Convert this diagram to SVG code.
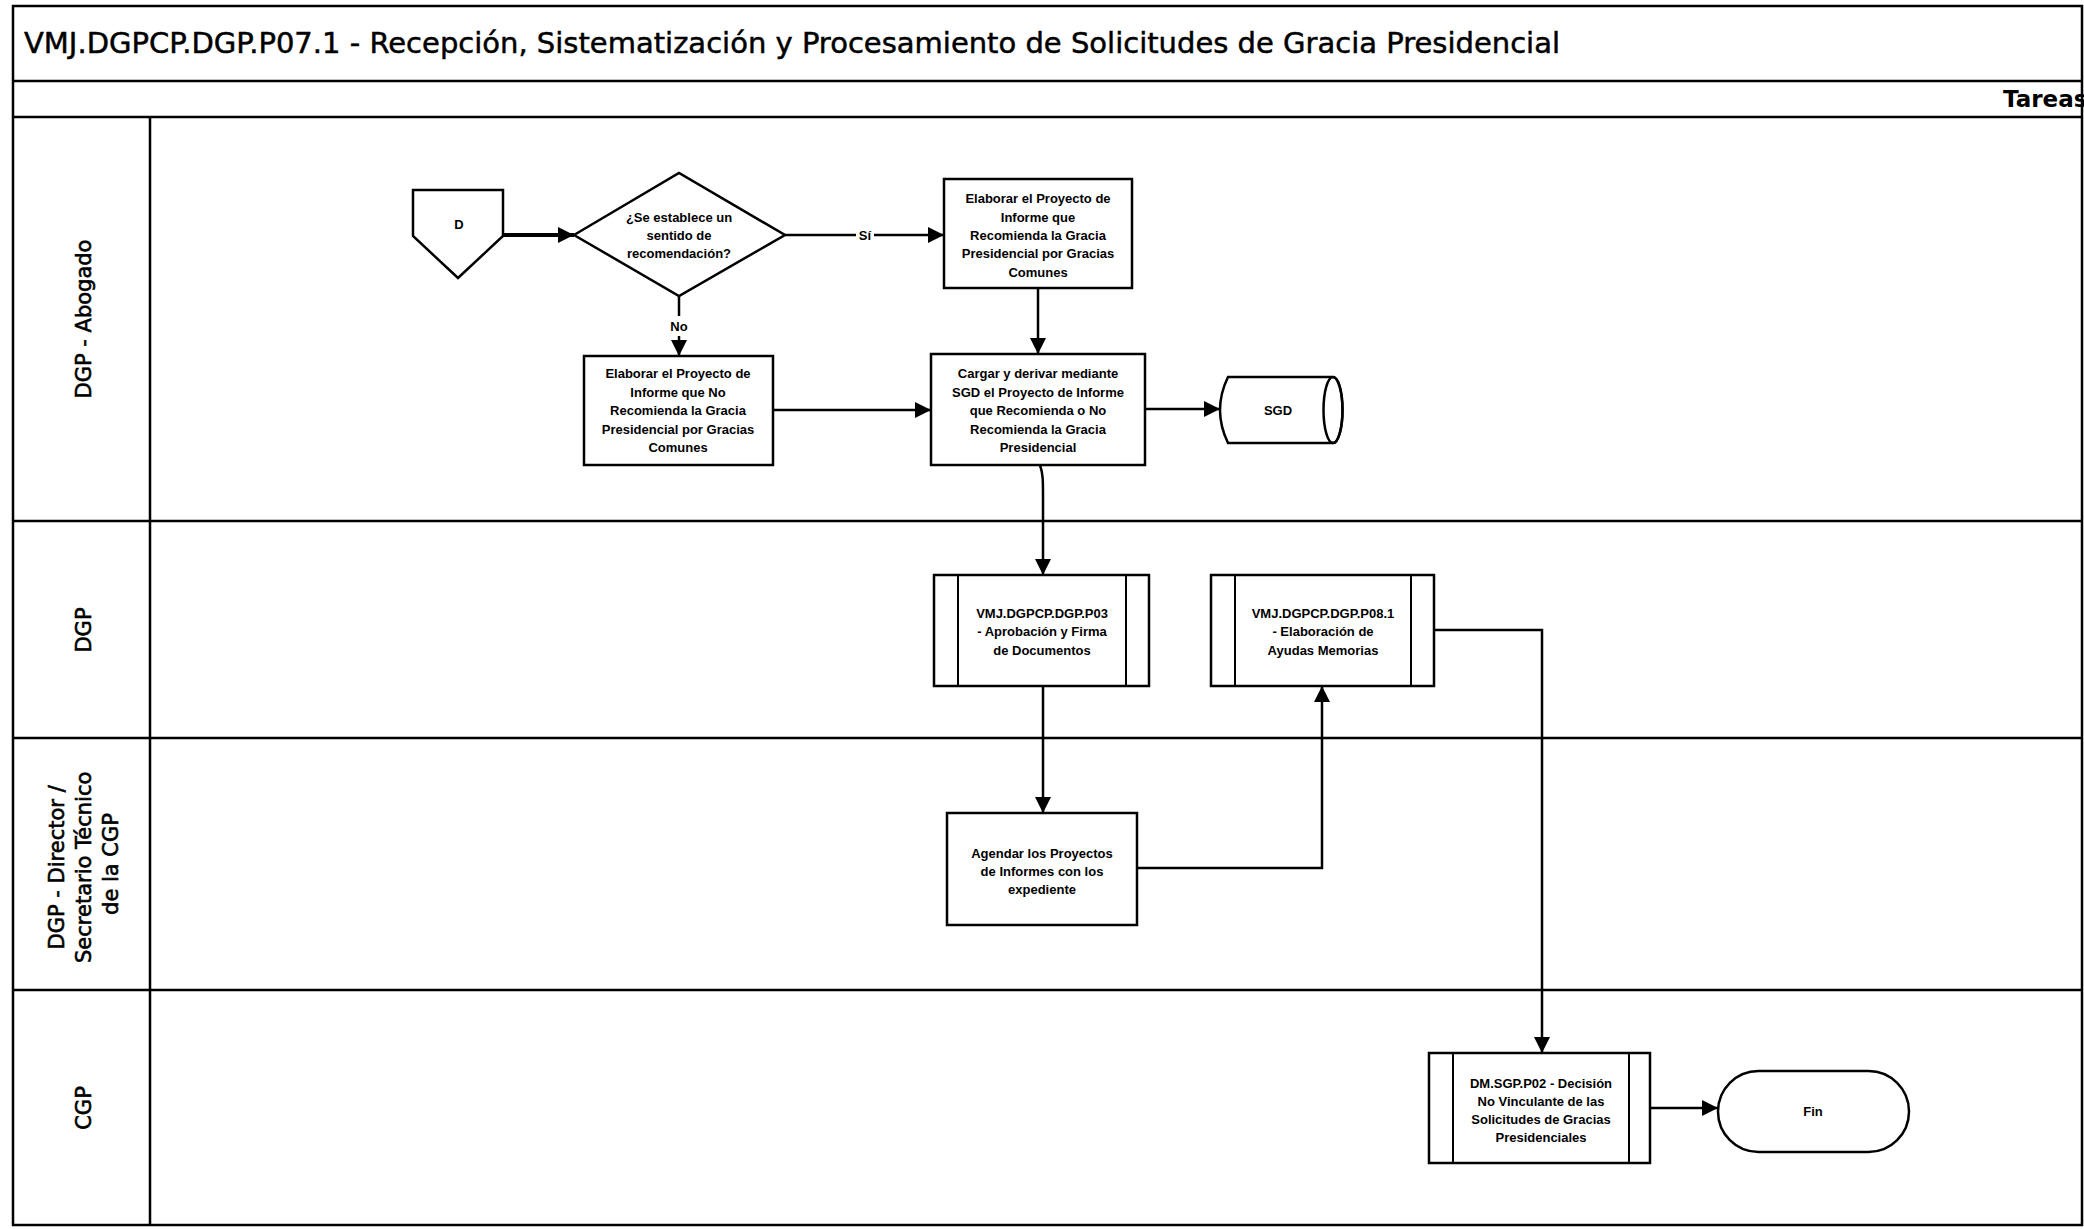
<svg xmlns="http://www.w3.org/2000/svg" width="2084" height="1229" viewBox="0 0 2084 1229">
  <defs>
    <marker id="arrow" markerUnits="userSpaceOnUse" markerWidth="18" markerHeight="16" refX="16" refY="8" orient="auto">
      <path d="M0,0 L16,8 L0,16 Z" fill="#000"/>
    </marker>
    <style>
      .frame { fill: none; stroke: #000; stroke-width: 2.5; }
      .box { fill: #fff; stroke: #000; stroke-width: 2.5; }
      .inner { stroke: #000; stroke-width: 2; }
      .conn { fill: none; stroke: #000; stroke-width: 2.5; marker-end: url(#arrow); }
      .t { font-family: "Liberation Sans", Arial, sans-serif; font-weight: bold; font-size: 13px; text-anchor: middle; dominant-baseline: central; fill: #000; }
      .lbl { font-family: "Liberation Sans", Arial, sans-serif; font-weight: bold; font-size: 13px; text-anchor: middle; dominant-baseline: central; fill: #000; }
      .lane { font-family: "DejaVu Sans", Verdana, sans-serif; font-size: 21px; text-anchor: middle; dominant-baseline: central; fill: #000; stroke: #000; stroke-width: 0.6; }
      .title { font-family: "DejaVu Sans", Verdana, sans-serif; font-size: 29px; fill: #000; stroke: #000; stroke-width: 0.5; }
    </style>
  </defs>

  <rect width="2084" height="1229" fill="#fff"/>

  <!-- pool frame, header bands and swimlanes -->
  <g id="pool">
    <rect class="frame" x="13" y="6" width="2069" height="1219"/>
    <line class="frame" x1="13" y1="81" x2="2082" y2="81"/>
    <line class="frame" x1="13" y1="117" x2="2082" y2="117"/>
    <line class="frame" x1="150" y1="117" x2="150" y2="1225"/>
    <line class="frame" x1="13" y1="521" x2="2082" y2="521"/>
    <line class="frame" x1="13" y1="738" x2="2082" y2="738"/>
    <line class="frame" x1="13" y1="990" x2="2082" y2="990"/>
    <text class="title" x="24" y="53" textLength="1536" lengthAdjust="spacingAndGlyphs">VMJ.DGPCP.DGP.P07.1 - Recepción, Sistematización y Procesamiento de Solicitudes de Gracia Presidencial</text>
    <text class="title" x="2003" y="107" style="font-size:23px;font-weight:bold;stroke-width:0">Tareas</text>
  </g>

  <g id="lane-labels">
    <text class="lane" transform="translate(84,319) rotate(-90)">DGP - Abogado</text>
    <text class="lane" transform="translate(84,630) rotate(-90)">DGP</text>
    <text class="lane" transform="translate(84,864) rotate(-90)">
      <tspan x="0" y="-27">DGP - Director /</tspan>
      <tspan x="0" y="0">Secretario Técnico</tspan>
      <tspan x="0" y="27">de la CGP</tspan>
    </text>
    <text class="lane" transform="translate(84,1108) rotate(-90)">CGP</text>
  </g>

  <!-- connectors -->
  <g id="connectors">
    <path class="conn" style="stroke-width:4" d="M503,235 H574"/>
    <path class="conn" d="M785,235 H944"/>
    <path class="conn" d="M679,296 V356"/>
    <path class="conn" d="M1038,288 V354"/>
    <path class="conn" d="M773,410 H931"/>
    <path class="conn" d="M1145,409 H1220"/>
    <path class="conn" d="M1040,465 C1043,474 1043,480 1043,495 V575"/>
    <path class="conn" d="M1043,686 V813"/>
    <path class="conn" d="M1137,868 H1322 V686"/>
    <path class="conn" d="M1434,630 H1542 V1053"/>
    <path class="conn" d="M1650,1108 H1718"/>
    <rect x="856" y="226" width="18" height="18" fill="#fff"/>
    <text class="lbl" x="865" y="235">Sí</text>
    <rect x="668" y="316" width="22" height="20" fill="#fff"/>
    <text class="lbl" x="679" y="326">No</text>
  </g>

  <!-- nodes -->
  <g id="node-d">
    <path class="box" d="M413,190 H503 V236 L458,278 L413,236 Z"/>
    <text class="t" x="459" y="224">D</text>
  </g>

  <g id="node-decision">
    <path class="box" d="M574,235 L679,173 L785,235 L679,296 Z"/>
    <text class="t" x="679" y="217">¿Se establece un</text>
    <text class="t" x="679" y="235">sentido de</text>
    <text class="t" x="679" y="253">recomendación?</text>
  </g>

  <g id="node-recomienda">
    <rect class="box" x="944" y="179" width="188" height="109"/>
    <text class="t" x="1038" y="198">Elaborar el  Proyecto de</text>
    <text class="t" x="1038" y="217">Informe que</text>
    <text class="t" x="1038" y="235">Recomienda la Gracia</text>
    <text class="t" x="1038" y="253">Presidencial por Gracias</text>
    <text class="t" x="1038" y="272">Comunes</text>
  </g>

  <g id="node-no-recomienda">
    <rect class="box" x="584" y="356" width="189" height="109"/>
    <text class="t" x="678" y="373">Elaborar el Proyecto de</text>
    <text class="t" x="678" y="392">Informe que No</text>
    <text class="t" x="678" y="410">Recomienda la Gracia</text>
    <text class="t" x="678" y="429">Presidencial por Gracias</text>
    <text class="t" x="678" y="447">Comunes</text>
  </g>

  <g id="node-cargar">
    <rect class="box" x="931" y="354" width="214" height="111"/>
    <text class="t" x="1038" y="373">Cargar y derivar mediante</text>
    <text class="t" x="1038" y="392">SGD el Proyecto de Informe</text>
    <text class="t" x="1038" y="410">que Recomienda o No</text>
    <text class="t" x="1038" y="429">Recomienda la Gracia</text>
    <text class="t" x="1038" y="447">Presidencial</text>
  </g>

  <g id="node-sgd">
    <path class="box" d="M1228,377 H1333 A9.5,33 0 0 1 1333,443 H1228 Q1212,410 1228,377 Z"/>
    <ellipse cx="1333" cy="410" rx="9.5" ry="33" fill="none" stroke="#000" stroke-width="2.5"/>
    <text class="t" x="1278" y="410">SGD</text>
  </g>

  <g id="node-p03">
    <rect class="box" x="934" y="575" width="215" height="111"/>
    <line class="inner" x1="958" y1="575" x2="958" y2="686"/>
    <line class="inner" x1="1126" y1="575" x2="1126" y2="686"/>
    <text class="t" x="1042" y="613">VMJ.DGPCP.DGP.P03</text>
    <text class="t" x="1042" y="631">- Aprobación y Firma</text>
    <text class="t" x="1042" y="650">de Documentos</text>
  </g>

  <g id="node-p08">
    <rect class="box" x="1211" y="575" width="223" height="111"/>
    <line class="inner" x1="1235" y1="575" x2="1235" y2="686"/>
    <line class="inner" x1="1411" y1="575" x2="1411" y2="686"/>
    <text class="t" x="1323" y="613">VMJ.DGPCP.DGP.P08.1</text>
    <text class="t" x="1323" y="631">- Elaboración de</text>
    <text class="t" x="1323" y="650">Ayudas Memorias</text>
  </g>

  <g id="node-agendar">
    <rect class="box" x="947" y="813" width="190" height="112"/>
    <text class="t" x="1042" y="853">Agendar los Proyectos</text>
    <text class="t" x="1042" y="871">de Informes con los</text>
    <text class="t" x="1042" y="889">expediente</text>
  </g>

  <g id="node-dm">
    <rect class="box" x="1429" y="1053" width="221" height="110"/>
    <line class="inner" x1="1453" y1="1053" x2="1453" y2="1163"/>
    <line class="inner" x1="1629" y1="1053" x2="1629" y2="1163"/>
    <text class="t" x="1541" y="1083">DM.SGP.P02 - Decisión</text>
    <text class="t" x="1541" y="1101">No Vinculante de las</text>
    <text class="t" x="1541" y="1119">Solicitudes de Gracias</text>
    <text class="t" x="1541" y="1137">Presidenciales</text>
  </g>

  <g id="node-fin">
    <rect class="box" x="1718" y="1071" width="191" height="81" rx="40.5" ry="40.5"/>
    <text class="t" x="1813" y="1111">Fin</text>
  </g>
</svg>
